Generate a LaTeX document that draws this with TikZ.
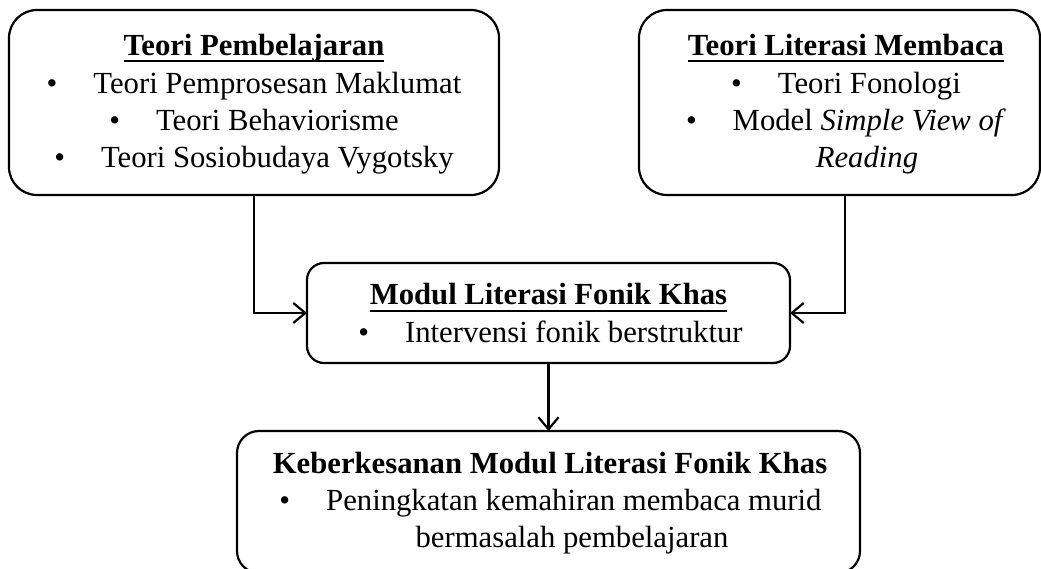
\documentclass[tikz,border=0pt]{standalone}
\usepackage{fontspec}
\setmainfont{Liberation Serif}
\usetikzlibrary{arrows.meta}
\begin{document}
\begin{tikzpicture}[x=1pt,y=-1pt,
  box/.style={draw=black, line width=2.2pt, inner sep=0pt, outer sep=0pt,
    font=\fontsize{30.7}{37.3}\selectfont},
  arr/.style={draw=black, line width=2.2pt, -{Straight Barb[length=12pt,width=20pt,line width=2.2pt]}}]
\useasboundingbox (0,0) rectangle (1041,569);
\newcommand{\bul}{\textbullet\hspace{36pt}}
\newcommand{\fst}{\rule{0pt}{25pt}}
\newcommand{\myul}[1]{\setbox0\hbox{#1}\rlap{\rule[-6.5pt]{\wd0}{2pt}}\box0}
\newcommand{\boxtext}[4]{\parbox[c][#2][t]{#1}{\centering\vspace*{#3}#4\par}}
\node[box, rounded corners=28pt] (tp) at (254,102.5)
  {\boxtext{490pt}{185pt}{21pt}{\fst\myul{\textbf{Teori Pembelajaran}}\\
   \bul Teori Pemprosesan Maklumat\\
   \bul Teori Behaviorisme\\
   \bul Teori Sosiobudaya Vygotsky}};
\node[box, rounded corners=28pt] (tl) at (839.5,102.5)
  {\boxtext{401pt}{185pt}{21pt}{\fst\hspace*{13pt}\myul{\textbf{Teori Literasi Membaca}}\\
   \hspace*{13pt}\bul Teori Fonologi\\
   \hspace*{13pt}\bul Model \textit{Simple View of}\\
   \hspace*{55pt}\textit{Reading}}};
\node[box, rounded corners=17pt] (ml) at (548.5,313)
  {\boxtext{483pt}{100pt}{17pt}{\fst\myul{\textbf{Modul Literasi Fonik Khas}}\\
   \hspace*{4pt}\bul Intervensi fonik berstruktur}};
\node[box, rounded corners=22pt] (kk) at (548.5,502)
  {\boxtext{623pt}{142pt}{17pt}{\fst\hspace*{3pt}\textbf{Keberkesanan Modul Literasi Fonik Khas}\\
   \hspace*{4pt}\bul Peningkatan kemahiran membaca murid\\
   \hspace*{47pt}bermasalah pembelajaran}};
\coordinate (tlout) at ([xshift=5.5pt]tl.south);
\draw[arr] (tp.south) |- (ml.west);
\draw[arr] (tlout) |- (ml.east);
\draw[arr] (ml.south) -- (kk.north);
\end{tikzpicture}
\end{document}
